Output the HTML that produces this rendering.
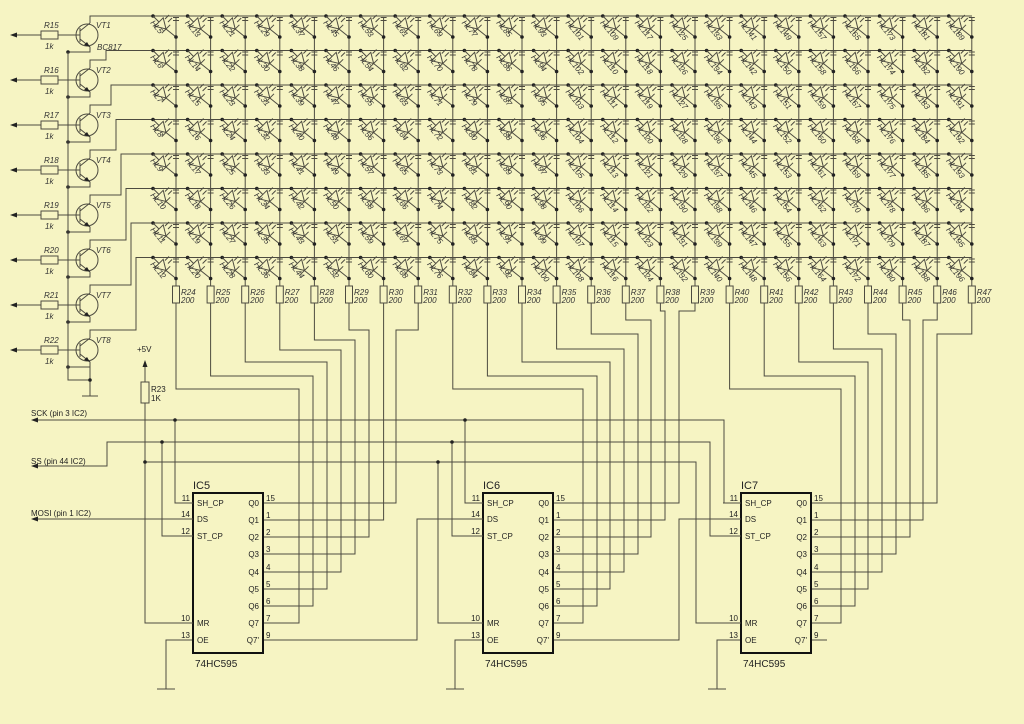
<!DOCTYPE html>
<html><head><meta charset="utf-8"><style>
html,body{margin:0;padding:0;background:#f6f4c3;}
svg{display:block;font-family:"Liberation Sans",sans-serif;}
.w{fill:none;stroke:#4d4b40;stroke-width:1}
.t{font-size:8px;fill:#333;font-style:italic}
.p{font-size:8px;fill:#222}
</style></head><body>
<svg width="1024" height="724" viewBox="0 0 1024 724" xmlns="http://www.w3.org/2000/svg">
<rect width="1024" height="724" fill="#f6f4c3"/>
<defs>
<g id="d">
<circle cx="0" cy="0" r="1.8" fill="#222"/>
<path class="w" d="M0 0L6 6M1.8 10.2L10.2 1.8L13 13ZM8.8 17.2L17.2 8.8M13 13L23 21M12 3L16 -1M15 6L19 2M20 1.5H26M20 4.5H26"/>
<circle cx="23" cy="21" r="1.8" fill="#222"/>
</g>
<g id="col">
<path class="w" d="M176 18V286"/>
<use href="#d" x="153" y="16"/><use href="#d" x="153" y="50.5"/><use href="#d" x="153" y="85"/><use href="#d" x="153" y="119.5"/>
<use href="#d" x="153" y="154"/><use href="#d" x="153" y="188.5"/><use href="#d" x="153" y="223"/><use href="#d" x="153" y="257.5"/>
<rect x="172.5" y="286" width="7" height="17" fill="none" stroke="#4d4b40"/>
</g>
<g id="vt">
<circle cx="87" cy="35" r="11" fill="none" stroke="#4d4b40"/>
<path class="w" d="M58 35H80M80 28V42M80 31L90 23M80 39L90 47V52H68M17 35H41"/>
<polygon points="90,47 84,45 87,42" fill="#222"/>
<polygon points="10,35 17,32.5 17,37.5" fill="#222"/>
<rect x="41" y="31" width="17" height="8" fill="none" stroke="#4d4b40"/>
<circle cx="68" cy="52" r="1.8" fill="#222"/>
</g>
</defs>

<!-- transistors -->
<use href="#vt" y="0"/><use href="#vt" y="45"/><use href="#vt" y="90"/><use href="#vt" y="135"/>
<use href="#vt" y="180"/><use href="#vt" y="225"/><use href="#vt" y="270"/><use href="#vt" y="315"/>
<path class="w" d="M68 52V380H90M90 362V396M82 396H98"/>
<circle cx="90" cy="380" r="1.8" fill="#222"/>
<g class="t">
<text x="44" y="28">R15</text><text x="45" y="49">1k</text><text x="96" y="28">VT1</text><text x="97" y="50">BC817</text>
<text x="44" y="73">R16</text><text x="45" y="94">1k</text><text x="96" y="73">VT2</text>
<text x="44" y="118">R17</text><text x="45" y="139">1k</text><text x="96" y="118">VT3</text>
<text x="44" y="163">R18</text><text x="45" y="184">1k</text><text x="96" y="163">VT4</text>
<text x="44" y="208">R19</text><text x="45" y="229">1k</text><text x="96" y="208">VT5</text>
<text x="44" y="253">R20</text><text x="45" y="274">1k</text><text x="96" y="253">VT6</text>
<text x="44" y="298">R21</text><text x="45" y="319">1k</text><text x="96" y="298">VT7</text>
<text x="44" y="343">R22</text><text x="45" y="364">1k</text><text x="96" y="343">VT8</text>
</g>
<!-- row lines -->
<path class="w" d="M90 23V16H972M90 68V60H106V50.5H972M90 113V105H111V85H972M90 158V150H116V119.5H972M90 203V195H121V154H972M90 248V240H126V188.5H972M90 293V285H131V223H972M90 338V330H136V257.5H972"/>

<!-- columns -->
<g class="t">
<g><use href="#col"/><text transform="translate(150,23)rotate(50)">HL5</text><text transform="translate(150,57.5)rotate(50)">HL6</text><text transform="translate(150,92)rotate(50)">HL7</text><text transform="translate(150,126.5)rotate(50)">HL8</text><text transform="translate(150,161)rotate(50)">HL9</text><text transform="translate(150,195.5)rotate(50)">HL10</text><text transform="translate(150,230)rotate(50)">HL11</text><text transform="translate(150,264.5)rotate(50)">HL12</text><text x="181" y="295">R24</text><text x="181" y="303">200</text></g>
<g transform="translate(34.6,0)"><use href="#col"/><text transform="translate(150,23)rotate(50)">HL13</text><text transform="translate(150,57.5)rotate(50)">HL14</text><text transform="translate(150,92)rotate(50)">HL15</text><text transform="translate(150,126.5)rotate(50)">HL16</text><text transform="translate(150,161)rotate(50)">HL17</text><text transform="translate(150,195.5)rotate(50)">HL18</text><text transform="translate(150,230)rotate(50)">HL19</text><text transform="translate(150,264.5)rotate(50)">HL20</text><text x="181" y="295">R25</text><text x="181" y="303">200</text></g>
<g transform="translate(69.2,0)"><use href="#col"/><text transform="translate(150,23)rotate(50)">HL21</text><text transform="translate(150,57.5)rotate(50)">HL22</text><text transform="translate(150,92)rotate(50)">HL23</text><text transform="translate(150,126.5)rotate(50)">HL24</text><text transform="translate(150,161)rotate(50)">HL25</text><text transform="translate(150,195.5)rotate(50)">HL26</text><text transform="translate(150,230)rotate(50)">HL27</text><text transform="translate(150,264.5)rotate(50)">HL28</text><text x="181" y="295">R26</text><text x="181" y="303">200</text></g>
<g transform="translate(103.8,0)"><use href="#col"/><text transform="translate(150,23)rotate(50)">HL29</text><text transform="translate(150,57.5)rotate(50)">HL30</text><text transform="translate(150,92)rotate(50)">HL31</text><text transform="translate(150,126.5)rotate(50)">HL32</text><text transform="translate(150,161)rotate(50)">HL33</text><text transform="translate(150,195.5)rotate(50)">HL34</text><text transform="translate(150,230)rotate(50)">HL35</text><text transform="translate(150,264.5)rotate(50)">HL36</text><text x="181" y="295">R27</text><text x="181" y="303">200</text></g>
<g transform="translate(138.4,0)"><use href="#col"/><text transform="translate(150,23)rotate(50)">HL37</text><text transform="translate(150,57.5)rotate(50)">HL38</text><text transform="translate(150,92)rotate(50)">HL39</text><text transform="translate(150,126.5)rotate(50)">HL40</text><text transform="translate(150,161)rotate(50)">HL41</text><text transform="translate(150,195.5)rotate(50)">HL42</text><text transform="translate(150,230)rotate(50)">HL43</text><text transform="translate(150,264.5)rotate(50)">HL44</text><text x="181" y="295">R28</text><text x="181" y="303">200</text></g>
<g transform="translate(173,0)"><use href="#col"/><text transform="translate(150,23)rotate(50)">HL45</text><text transform="translate(150,57.5)rotate(50)">HL46</text><text transform="translate(150,92)rotate(50)">HL47</text><text transform="translate(150,126.5)rotate(50)">HL48</text><text transform="translate(150,161)rotate(50)">HL49</text><text transform="translate(150,195.5)rotate(50)">HL50</text><text transform="translate(150,230)rotate(50)">HL51</text><text transform="translate(150,264.5)rotate(50)">HL52</text><text x="181" y="295">R29</text><text x="181" y="303">200</text></g>
<g transform="translate(207.6,0)"><use href="#col"/><text transform="translate(150,23)rotate(50)">HL53</text><text transform="translate(150,57.5)rotate(50)">HL54</text><text transform="translate(150,92)rotate(50)">HL55</text><text transform="translate(150,126.5)rotate(50)">HL56</text><text transform="translate(150,161)rotate(50)">HL57</text><text transform="translate(150,195.5)rotate(50)">HL58</text><text transform="translate(150,230)rotate(50)">HL59</text><text transform="translate(150,264.5)rotate(50)">HL60</text><text x="181" y="295">R30</text><text x="181" y="303">200</text></g>
<g transform="translate(242.2,0)"><use href="#col"/><text transform="translate(150,23)rotate(50)">HL61</text><text transform="translate(150,57.5)rotate(50)">HL62</text><text transform="translate(150,92)rotate(50)">HL63</text><text transform="translate(150,126.5)rotate(50)">HL64</text><text transform="translate(150,161)rotate(50)">HL65</text><text transform="translate(150,195.5)rotate(50)">HL66</text><text transform="translate(150,230)rotate(50)">HL67</text><text transform="translate(150,264.5)rotate(50)">HL68</text><text x="181" y="295">R31</text><text x="181" y="303">200</text></g>
<g transform="translate(276.8,0)"><use href="#col"/><text transform="translate(150,23)rotate(50)">HL69</text><text transform="translate(150,57.5)rotate(50)">HL70</text><text transform="translate(150,92)rotate(50)">HL71</text><text transform="translate(150,126.5)rotate(50)">HL72</text><text transform="translate(150,161)rotate(50)">HL73</text><text transform="translate(150,195.5)rotate(50)">HL74</text><text transform="translate(150,230)rotate(50)">HL75</text><text transform="translate(150,264.5)rotate(50)">HL76</text><text x="181" y="295">R32</text><text x="181" y="303">200</text></g>
<g transform="translate(311.4,0)"><use href="#col"/><text transform="translate(150,23)rotate(50)">HL77</text><text transform="translate(150,57.5)rotate(50)">HL78</text><text transform="translate(150,92)rotate(50)">HL79</text><text transform="translate(150,126.5)rotate(50)">HL80</text><text transform="translate(150,161)rotate(50)">HL81</text><text transform="translate(150,195.5)rotate(50)">HL82</text><text transform="translate(150,230)rotate(50)">HL83</text><text transform="translate(150,264.5)rotate(50)">HL84</text><text x="181" y="295">R33</text><text x="181" y="303">200</text></g>
<g transform="translate(346,0)"><use href="#col"/><text transform="translate(150,23)rotate(50)">HL85</text><text transform="translate(150,57.5)rotate(50)">HL86</text><text transform="translate(150,92)rotate(50)">HL87</text><text transform="translate(150,126.5)rotate(50)">HL88</text><text transform="translate(150,161)rotate(50)">HL89</text><text transform="translate(150,195.5)rotate(50)">HL90</text><text transform="translate(150,230)rotate(50)">HL91</text><text transform="translate(150,264.5)rotate(50)">HL92</text><text x="181" y="295">R34</text><text x="181" y="303">200</text></g>
<g transform="translate(380.6,0)"><use href="#col"/><text transform="translate(150,23)rotate(50)">HL93</text><text transform="translate(150,57.5)rotate(50)">HL94</text><text transform="translate(150,92)rotate(50)">HL95</text><text transform="translate(150,126.5)rotate(50)">HL96</text><text transform="translate(150,161)rotate(50)">HL97</text><text transform="translate(150,195.5)rotate(50)">HL98</text><text transform="translate(150,230)rotate(50)">HL99</text><text transform="translate(150,264.5)rotate(50)">HL100</text><text x="181" y="295">R35</text><text x="181" y="303">200</text></g>
<g transform="translate(415.2,0)"><use href="#col"/><text transform="translate(150,23)rotate(50)">HL101</text><text transform="translate(150,57.5)rotate(50)">HL102</text><text transform="translate(150,92)rotate(50)">HL103</text><text transform="translate(150,126.5)rotate(50)">HL104</text><text transform="translate(150,161)rotate(50)">HL105</text><text transform="translate(150,195.5)rotate(50)">HL106</text><text transform="translate(150,230)rotate(50)">HL107</text><text transform="translate(150,264.5)rotate(50)">HL108</text><text x="181" y="295">R36</text><text x="181" y="303">200</text></g>
<g transform="translate(449.8,0)"><use href="#col"/><text transform="translate(150,23)rotate(50)">HL109</text><text transform="translate(150,57.5)rotate(50)">HL110</text><text transform="translate(150,92)rotate(50)">HL111</text><text transform="translate(150,126.5)rotate(50)">HL112</text><text transform="translate(150,161)rotate(50)">HL113</text><text transform="translate(150,195.5)rotate(50)">HL114</text><text transform="translate(150,230)rotate(50)">HL115</text><text transform="translate(150,264.5)rotate(50)">HL116</text><text x="181" y="295">R37</text><text x="181" y="303">200</text></g>
<g transform="translate(484.4,0)"><use href="#col"/><text transform="translate(150,23)rotate(50)">HL117</text><text transform="translate(150,57.5)rotate(50)">HL118</text><text transform="translate(150,92)rotate(50)">HL119</text><text transform="translate(150,126.5)rotate(50)">HL120</text><text transform="translate(150,161)rotate(50)">HL121</text><text transform="translate(150,195.5)rotate(50)">HL122</text><text transform="translate(150,230)rotate(50)">HL123</text><text transform="translate(150,264.5)rotate(50)">HL124</text><text x="181" y="295">R38</text><text x="181" y="303">200</text></g>
<g transform="translate(519,0)"><use href="#col"/><text transform="translate(150,23)rotate(50)">HL125</text><text transform="translate(150,57.5)rotate(50)">HL126</text><text transform="translate(150,92)rotate(50)">HL127</text><text transform="translate(150,126.5)rotate(50)">HL128</text><text transform="translate(150,161)rotate(50)">HL129</text><text transform="translate(150,195.5)rotate(50)">HL130</text><text transform="translate(150,230)rotate(50)">HL131</text><text transform="translate(150,264.5)rotate(50)">HL132</text><text x="181" y="295">R39</text><text x="181" y="303">200</text></g>
<g transform="translate(553.6,0)"><use href="#col"/><text transform="translate(150,23)rotate(50)">HL133</text><text transform="translate(150,57.5)rotate(50)">HL134</text><text transform="translate(150,92)rotate(50)">HL135</text><text transform="translate(150,126.5)rotate(50)">HL136</text><text transform="translate(150,161)rotate(50)">HL137</text><text transform="translate(150,195.5)rotate(50)">HL138</text><text transform="translate(150,230)rotate(50)">HL139</text><text transform="translate(150,264.5)rotate(50)">HL140</text><text x="181" y="295">R40</text><text x="181" y="303">200</text></g>
<g transform="translate(588.2,0)"><use href="#col"/><text transform="translate(150,23)rotate(50)">HL141</text><text transform="translate(150,57.5)rotate(50)">HL142</text><text transform="translate(150,92)rotate(50)">HL143</text><text transform="translate(150,126.5)rotate(50)">HL144</text><text transform="translate(150,161)rotate(50)">HL145</text><text transform="translate(150,195.5)rotate(50)">HL146</text><text transform="translate(150,230)rotate(50)">HL147</text><text transform="translate(150,264.5)rotate(50)">HL148</text><text x="181" y="295">R41</text><text x="181" y="303">200</text></g>
<g transform="translate(622.8,0)"><use href="#col"/><text transform="translate(150,23)rotate(50)">HL149</text><text transform="translate(150,57.5)rotate(50)">HL150</text><text transform="translate(150,92)rotate(50)">HL151</text><text transform="translate(150,126.5)rotate(50)">HL152</text><text transform="translate(150,161)rotate(50)">HL153</text><text transform="translate(150,195.5)rotate(50)">HL154</text><text transform="translate(150,230)rotate(50)">HL155</text><text transform="translate(150,264.5)rotate(50)">HL156</text><text x="181" y="295">R42</text><text x="181" y="303">200</text></g>
<g transform="translate(657.4,0)"><use href="#col"/><text transform="translate(150,23)rotate(50)">HL157</text><text transform="translate(150,57.5)rotate(50)">HL158</text><text transform="translate(150,92)rotate(50)">HL159</text><text transform="translate(150,126.5)rotate(50)">HL160</text><text transform="translate(150,161)rotate(50)">HL161</text><text transform="translate(150,195.5)rotate(50)">HL162</text><text transform="translate(150,230)rotate(50)">HL163</text><text transform="translate(150,264.5)rotate(50)">HL164</text><text x="181" y="295">R43</text><text x="181" y="303">200</text></g>
<g transform="translate(692,0)"><use href="#col"/><text transform="translate(150,23)rotate(50)">HL165</text><text transform="translate(150,57.5)rotate(50)">HL166</text><text transform="translate(150,92)rotate(50)">HL167</text><text transform="translate(150,126.5)rotate(50)">HL168</text><text transform="translate(150,161)rotate(50)">HL169</text><text transform="translate(150,195.5)rotate(50)">HL170</text><text transform="translate(150,230)rotate(50)">HL171</text><text transform="translate(150,264.5)rotate(50)">HL172</text><text x="181" y="295">R44</text><text x="181" y="303">200</text></g>
<g transform="translate(726.6,0)"><use href="#col"/><text transform="translate(150,23)rotate(50)">HL173</text><text transform="translate(150,57.5)rotate(50)">HL174</text><text transform="translate(150,92)rotate(50)">HL175</text><text transform="translate(150,126.5)rotate(50)">HL176</text><text transform="translate(150,161)rotate(50)">HL177</text><text transform="translate(150,195.5)rotate(50)">HL178</text><text transform="translate(150,230)rotate(50)">HL179</text><text transform="translate(150,264.5)rotate(50)">HL180</text><text x="181" y="295">R45</text><text x="181" y="303">200</text></g>
<g transform="translate(761.2,0)"><use href="#col"/><text transform="translate(150,23)rotate(50)">HL181</text><text transform="translate(150,57.5)rotate(50)">HL182</text><text transform="translate(150,92)rotate(50)">HL183</text><text transform="translate(150,126.5)rotate(50)">HL184</text><text transform="translate(150,161)rotate(50)">HL185</text><text transform="translate(150,195.5)rotate(50)">HL186</text><text transform="translate(150,230)rotate(50)">HL187</text><text transform="translate(150,264.5)rotate(50)">HL188</text><text x="181" y="295">R46</text><text x="181" y="303">200</text></g>
<g transform="translate(795.8,0)"><use href="#col"/><text transform="translate(150,23)rotate(50)">HL189</text><text transform="translate(150,57.5)rotate(50)">HL190</text><text transform="translate(150,92)rotate(50)">HL191</text><text transform="translate(150,126.5)rotate(50)">HL192</text><text transform="translate(150,161)rotate(50)">HL193</text><text transform="translate(150,195.5)rotate(50)">HL194</text><text transform="translate(150,230)rotate(50)">HL195</text><text transform="translate(150,264.5)rotate(50)">HL196</text><text x="181" y="295">R47</text><text x="181" y="303">200</text></g>
</g>

<!-- resistor to IC wiring -->
<path class="w" d="
M176 303V389H299V623H263
M210.6 303V376H313V606H263
M245.2 303V362H327V589H263
M279.8 303V350H341V572H263
M314.4 303V340H355V554H263
M349 303V330H369V537H263
M383.6 303V520H263
M418.2 303V330H396V503H263
M452.8 303V389H583V623H553
M487.4 303V376H597V606H553
M522 303V362H610V589H553
M556.6 303V349H624V572H553
M591.2 303V334H638V554H553
M625.8 303V320H651V537H553
M660.4 303V311H665V520H553
M695 303V311H679V503H553
M729.6 303V389H841V623H811
M764.2 303V376H855V606H811
M798.8 303V362H868V589H811
M833.4 303V349H882V572H811
M868 303V334H896V554H811
M902.6 303V320H910V537H811
M937.2 303V320H923V520H811
M971.8 303V334H937V503H811"/>

<!-- control lines -->
<path class="w" d="
M38 420H724V503H741M175 420V503H193M465 420V503H483
M38 466H107V442H710V536H741M162 442V536H193M452 442V536H483
M145 366V623H193M145 462H696V623H741M438 462V623H483
M38 519H193
M263 640H417V519H483
M553 640H679V519H741
M811 640H827
M193 640H166V689M157 689H175
M483 640H455V689M446 689H464
M741 640H717V689M708 689H726"/>
<g fill="#222">
<circle cx="175" cy="420" r="1.8"/><circle cx="465" cy="420" r="1.8"/>
<circle cx="162" cy="442" r="1.8"/><circle cx="452" cy="442" r="1.8"/>
<circle cx="145" cy="462" r="1.8"/><circle cx="438" cy="462" r="1.8"/>
<polygon points="31,420 38,417.5 38,422.5"/><polygon points="31,466 38,463.5 38,468.5"/><polygon points="31,519 38,516.5 38,521.5"/>
<polygon points="145,360 142.5,367 147.5,367"/>
</g>
<rect x="141" y="382" width="8" height="21" fill="#f6f4c3" stroke="#4d4b40"/>
<g class="p">
<text x="137" y="352">+5V</text><text x="151" y="392">R23</text><text x="151" y="401">1K</text>
<text x="31" y="416">SCK (pin 3  IC2)</text>
<text x="31" y="464">SS (pin 44  IC2)</text>
<text x="31" y="516">MOSI (pin 1  IC2)</text>
</g>

<!-- ICs -->
<g id="ic">
<rect x="193" y="493" width="70" height="160" fill="none" stroke="#111" stroke-width="2"/>
<path class="w" d="M175 503H193M175 519H193M175 536H193M175 623H193"/>
<g class="p" font-size="7.5">
<text x="197" y="506">SH_CP</text><text x="197" y="522">DS</text><text x="197" y="539">ST_CP</text><text x="197" y="626">MR</text><text x="197" y="643">OE</text>
<g text-anchor="end"><text x="259" y="506">Q0</text><text x="259" y="523">Q1</text><text x="259" y="540">Q2</text><text x="259" y="557">Q3</text><text x="259" y="575">Q4</text><text x="259" y="592">Q5</text><text x="259" y="609">Q6</text><text x="259" y="626">Q7</text><text x="259" y="643">Q7'</text>
<text x="190" y="501">11</text><text x="190" y="517">14</text><text x="190" y="534">12</text><text x="190" y="621">10</text><text x="190" y="638">13</text></g>
<text x="266" y="501">15</text><text x="266" y="518">1</text><text x="266" y="535">2</text><text x="266" y="552">3</text><text x="266" y="570">4</text><text x="266" y="587">5</text><text x="266" y="604">6</text><text x="266" y="621">7</text><text x="266" y="638">9</text>
</g>
<text x="193" y="489" font-size="11" fill="#222">IC5</text>
<text x="195" y="667" font-size="10" fill="#222">74HC595</text>
</g>
<g transform="translate(290,0)">
<rect x="193" y="493" width="70" height="160" fill="none" stroke="#111" stroke-width="2"/>
<path class="w" d="M175 503H193M175 519H193M175 536H193M175 623H193"/>
<g class="p" font-size="7.5">
<text x="197" y="506">SH_CP</text><text x="197" y="522">DS</text><text x="197" y="539">ST_CP</text><text x="197" y="626">MR</text><text x="197" y="643">OE</text>
<g text-anchor="end"><text x="259" y="506">Q0</text><text x="259" y="523">Q1</text><text x="259" y="540">Q2</text><text x="259" y="557">Q3</text><text x="259" y="575">Q4</text><text x="259" y="592">Q5</text><text x="259" y="609">Q6</text><text x="259" y="626">Q7</text><text x="259" y="643">Q7'</text>
<text x="190" y="501">11</text><text x="190" y="517">14</text><text x="190" y="534">12</text><text x="190" y="621">10</text><text x="190" y="638">13</text></g>
<text x="266" y="501">15</text><text x="266" y="518">1</text><text x="266" y="535">2</text><text x="266" y="552">3</text><text x="266" y="570">4</text><text x="266" y="587">5</text><text x="266" y="604">6</text><text x="266" y="621">7</text><text x="266" y="638">9</text>
</g>
<text x="193" y="489" font-size="11" fill="#222">IC6</text>
<text x="195" y="667" font-size="10" fill="#222">74HC595</text>
</g>
<g transform="translate(548,0)">
<rect x="193" y="493" width="70" height="160" fill="none" stroke="#111" stroke-width="2"/>
<path class="w" d="M175 503H193M175 519H193M175 536H193M175 623H193"/>
<g class="p" font-size="7.5">
<text x="197" y="506">SH_CP</text><text x="197" y="522">DS</text><text x="197" y="539">ST_CP</text><text x="197" y="626">MR</text><text x="197" y="643">OE</text>
<g text-anchor="end"><text x="259" y="506">Q0</text><text x="259" y="523">Q1</text><text x="259" y="540">Q2</text><text x="259" y="557">Q3</text><text x="259" y="575">Q4</text><text x="259" y="592">Q5</text><text x="259" y="609">Q6</text><text x="259" y="626">Q7</text><text x="259" y="643">Q7'</text>
<text x="190" y="501">11</text><text x="190" y="517">14</text><text x="190" y="534">12</text><text x="190" y="621">10</text><text x="190" y="638">13</text></g>
<text x="266" y="501">15</text><text x="266" y="518">1</text><text x="266" y="535">2</text><text x="266" y="552">3</text><text x="266" y="570">4</text><text x="266" y="587">5</text><text x="266" y="604">6</text><text x="266" y="621">7</text><text x="266" y="638">9</text>
</g>
<text x="193" y="489" font-size="11" fill="#222">IC7</text>
<text x="195" y="667" font-size="10" fill="#222">74HC595</text>
</g>
</svg>
</body></html>
